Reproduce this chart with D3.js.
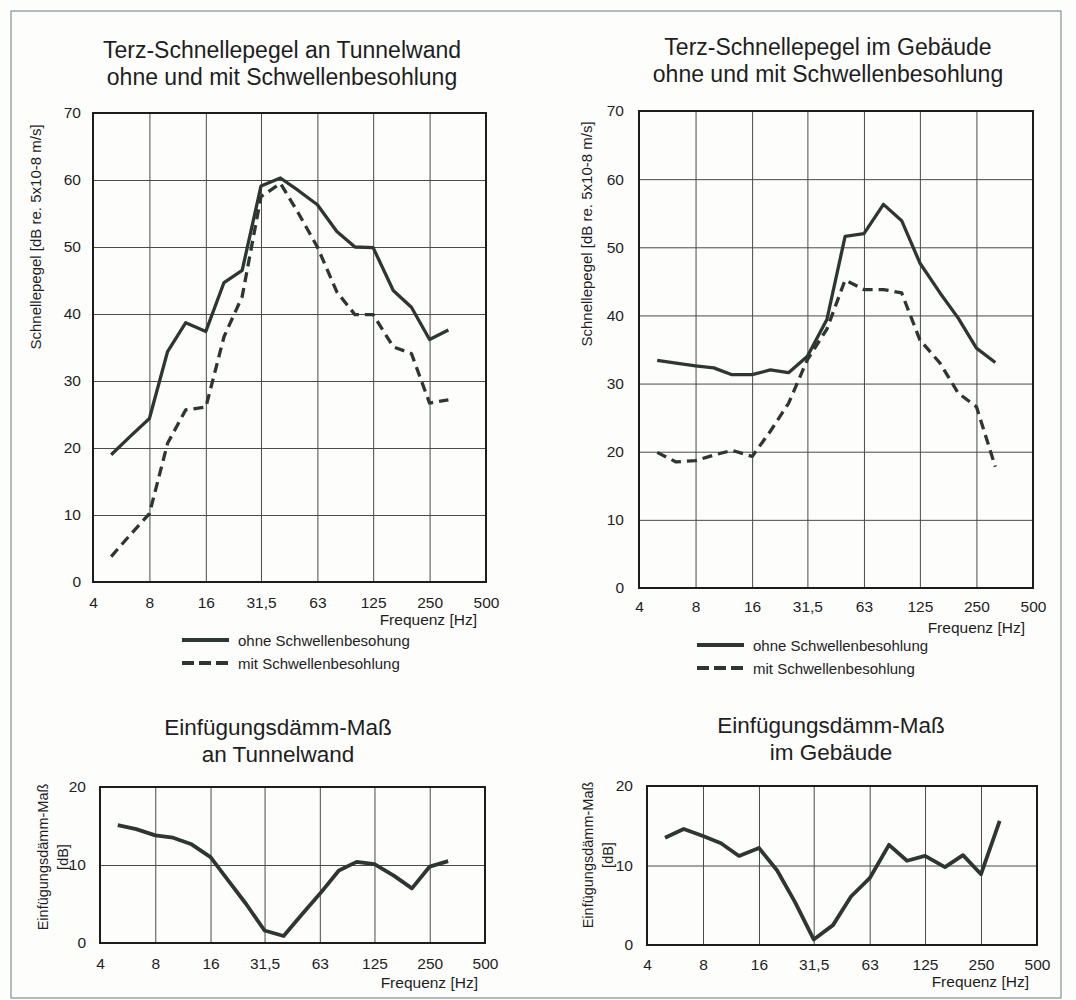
<!DOCTYPE html>
<meta charset="utf-8">
<script src="https://d3js.org/d3.v7.min.js"></script>
<style>
  body { margin: 0; background: #fff; }
  svg text { font-family: Arial, "Liberation Sans", sans-serif; fill: #1e1e1e; }
</style>
<div id="chart"></div>
<script>
const width = 1076
const height = 1000

// Terzmittenfrequenzen [Hz]
const freqs = [5, 6.3, 8, 10, 12.5, 16, 20, 25, 31.5, 40, 50, 63, 80, 100, 125, 160, 200, 250, 315]
const freqTicks = [4, 8, 16, 31.5, 63, 125, 250, 500]
const freqTickLabels = ["4", "8", "16", "31,5", "63", "125", "250", "500"]
const levelTicks = [0, 10, 20, 30, 40, 50, 60, 70]
const daemmTicks = [0, 10, 20]

// Schnellepegel an Tunnelwand [dB]
const tunnelOhne = [19.0, 21.7, 24.4, 34.4, 38.7, 37.4, 44.7, 46.5, 59.1, 60.3, 58.4, 56.3, 52.3, 50.0, 49.9, 43.5, 41.0, 36.2, 37.6]
const tunnelMit  = [3.8, 7.0, 10.2, 20.7, 25.7, 26.1, 36.6, 42.6, 57.5, 59.5, 55.0, 50.0, 43.3, 39.9, 39.9, 35.1, 34.1, 26.7, 27.2]
// Schnellepegel im Gebäude [dB]
const gebOhne = [33.4, 33.0, 32.6, 32.3, 31.3, 31.3, 32.0, 31.6, 34.0, 39.4, 51.6, 52.0, 56.3, 53.9, 47.7, 43.3, 39.6, 35.2, 33.1]
const gebMit  = [19.9, 18.5, 18.7, 19.5, 20.2, 19.3, 23.0, 27.1, 33.5, 38.0, 45.2, 43.8, 43.8, 43.3, 36.4, 33.0, 28.6, 26.6, 17.8]
// Einfügungsdämm-Maß [dB]
const daemmTunnel = [15.1, 14.6, 13.8, 13.5, 12.7, 11.0, 8.0, 5.0, 1.6, 0.9, 3.6, 6.3, 9.3, 10.4, 10.1, 8.6, 7.0, 9.8, 10.5]
const daemmGeb    = [13.5, 14.6, 13.7, 12.8, 11.2, 12.2, 9.4, 5.4, 0.7, 2.5, 6.1, 8.4, 12.6, 10.6, 11.2, 9.8, 11.3, 8.9, 15.6]

const lineColor = "#2d3632"

const svg = d3.select("#chart").append("svg")
  .attr("width", width)
  .attr("height", height)

svg.append("rect").attr("width", width).attr("height", height).attr("fill", "#fdfdfc")
// scan frame
svg.append("rect")
  .attr("x", 11).attr("y", 11).attr("width", 1050).attr("height", 987)
  .attr("fill", "none").attr("stroke", "#8c989c").attr("stroke-width", 1.3)

function panel(p) {
  const x = d3.scaleLog().domain([4, 500]).range([p.left, p.right])
  const y = d3.scaleLinear().domain([0, d3.max(p.yTicks)]).range([p.bottom, p.top])
  const g = svg.append("g")

  // grid
  g.append("g")
    .attr("transform", "translate(0," + p.bottom + ")")
    .call(d3.axisBottom(x).tickValues(freqTicks).tickSize(-(p.bottom - p.top)).tickFormat(""))
  g.append("g")
    .attr("transform", "translate(" + p.left + ",0)")
    .call(d3.axisLeft(y).tickValues(p.yTicks).tickSize(-(p.right - p.left)).tickFormat(""))
  g.selectAll(".domain").remove()
  g.selectAll(".tick line").attr("stroke", "#4a4a4a").attr("stroke-width", 1)

  // tick labels
  const xa = g.append("g")
    .attr("transform", "translate(0," + p.bottom + ")")
    .call(d3.axisBottom(x).tickValues(freqTicks).tickSize(0).tickPadding(p.xPad)
      .tickFormat((d, i) => freqTickLabels[i]))
  const ya = g.append("g")
    .attr("transform", "translate(" + p.left + ",0)")
    .call(d3.axisLeft(y).tickValues(p.yTicks).tickSize(0).tickPadding(p.yPad))
  xa.select(".domain").remove()
  ya.select(".domain").remove()
  g.selectAll("text").attr("font-size", 15.5).attr("font-family", null).attr("fill", null)

  // frame of plot
  g.append("rect")
    .attr("x", p.left).attr("y", p.top)
    .attr("width", p.right - p.left).attr("height", p.bottom - p.top)
    .attr("fill", "none").attr("stroke", "#1c1c1c").attr("stroke-width", 2)

  const line = d3.line().x((d, i) => x(freqs[i])).y(d => y(d))
  p.series.forEach(s => {
    g.append("path")
      .attr("d", line(s.values))
      .attr("fill", "none")
      .attr("stroke", lineColor)
      .attr("stroke-width", p.lw)
      .attr("stroke-linejoin", "round")
      .attr("stroke-dasharray", s.dashed ? "10,6" : null)
  })

  // titles
  p.title.forEach((t, i) => {
    g.append("text").attr("x", p.titleX).attr("y", p.titleY + i * 27)
      .attr("text-anchor", "middle").attr("font-size", p.titleSize).attr("fill", "#2a2a2a").text(t)
  })
  // y label
  p.yLabel.forEach((t, i) => {
    g.append("text")
      .attr("transform", "translate(" + (p.yLabelX + i * 20) + "," + p.yLabelY + ") rotate(-90)")
      .attr("text-anchor", "middle").attr("font-size", p.yLabelSize).text(t)
  })
  // x label
  g.append("text").attr("x", p.xLabelX).attr("y", p.xLabelY)
    .attr("text-anchor", "end").attr("font-size", 15.5).text("Frequenz [Hz]")

  // legend
  if (p.legend) {
    p.legend.forEach((l, i) => {
      const ly = p.legendY + i * 23
      g.append("line")
        .attr("x1", p.legendX).attr("x2", p.legendX + 47)
        .attr("y1", ly).attr("y2", ly)
        .attr("stroke", lineColor).attr("stroke-width", 4)
        .attr("stroke-dasharray", l.dashed ? "12,5" : null)
      g.append("text").attr("x", p.legendX + 56).attr("y", ly + 6)
        .attr("font-size", 15).text(l.label)
    })
  }
}

panel({
  left: 93, right: 486, top: 113, bottom: 582,
  yTicks: levelTicks, xPad: 15, yPad: 12, lw: 3.3,
  series: [{ values: tunnelOhne }, { values: tunnelMit, dashed: true }],
  title: ["Terz-Schnellepegel an Tunnelwand", "ohne und mit Schwellenbesohlung"],
  titleX: 282, titleY: 58, titleSize: 23,
  yLabel: ["Schnellepegel [dB re. 5x10-8 m/s]"], yLabelX: 41, yLabelY: 237, yLabelSize: 15,
  xLabelX: 477, xLabelY: 625,
  legendX: 182, legendY: 640,
  legend: [{ label: "ohne Schwellenbesohung" }, { label: "mit Schwellenbesohlung", dashed: true }]
})

panel({
  left: 639, right: 1033, top: 111, bottom: 588,
  yTicks: levelTicks, xPad: 13, yPad: 15, lw: 3.3,
  series: [{ values: gebOhne }, { values: gebMit, dashed: true }],
  title: ["Terz-Schnellepegel im Gebäude", "ohne und mit Schwellenbesohlung"],
  titleX: 828, titleY: 55, titleSize: 23,
  yLabel: ["Schnellepegel [dB re. 5x10-8 m/s]"], yLabelX: 592, yLabelY: 234, yLabelSize: 15,
  xLabelX: 1025, xLabelY: 633,
  legendX: 697, legendY: 645,
  legend: [{ label: "ohne Schwellenbesohlung" }, { label: "mit Schwellenbesohlung", dashed: true }]
})

panel({
  left: 100, right: 485, top: 787, bottom: 943,
  yTicks: daemmTicks, xPad: 15, yPad: 14, lw: 3.8,
  series: [{ values: daemmTunnel }],
  title: ["Einfügungsdämm-Maß", "an Tunnelwand"],
  titleX: 278, titleY: 735, titleSize: 22.5,
  yLabel: ["Einfügungsdämm-Maß", "[dB]"], yLabelX: 48, yLabelY: 857, yLabelSize: 14.5,
  xLabelX: 478, xLabelY: 988
})

panel({
  left: 647, right: 1037, top: 786, bottom: 945,
  yTicks: daemmTicks, xPad: 14, yPad: 14, lw: 3.8,
  series: [{ values: daemmGeb }],
  title: ["Einfügungsdämm-Maß", "im Gebäude"],
  titleX: 831, titleY: 733, titleSize: 22.5,
  yLabel: ["Einfügungsdämm-Maß", "[dB]"], yLabelX: 593, yLabelY: 855, yLabelSize: 14.5,
  xLabelX: 1029, xLabelY: 987
})
</script>
